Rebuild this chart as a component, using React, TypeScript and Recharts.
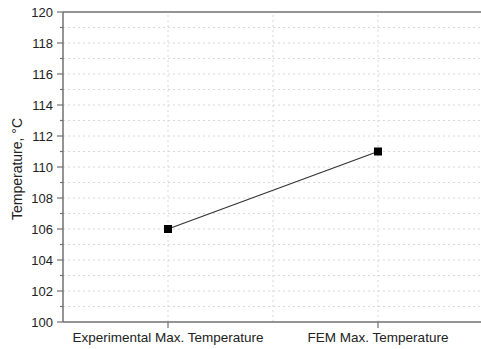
import React from 'react';
import { LineChart, Line, XAxis, YAxis, ReferenceLine } from 'recharts';

const categories = ['Experimental Max. Temperature', 'FEM Max. Temperature'];
const maxTemps = [106, 111];
const yTicks = [100, 101, 102, 103, 104, 105, 106, 107, 108, 109, 110, 111, 112, 113, 114, 115, 116, 117, 118, 119, 120];
const gridY = [101, 102, 103, 104, 105, 106, 107, 108, 109, 110, 111, 112, 113, 114, 115, 116, 117, 118, 119];
const gridX = [1, 1.5, 2];

const data = categories.map((name, i) => ({ pos: i + 1, name, temp: maxTemps[i] }));

const FONT = '"Liberation Sans", Arial, sans-serif';
const AXIS = '#707070';

const LeftTick = (props: any) => {
  const { x, y, payload } = props;
  const major = payload.value % 2 === 0;
  return (
    <g>
      <line x1={x - (major ? 6 : 3)} y1={y} x2={x} y2={y} stroke={AXIS} strokeWidth={1.2} />
      {major && (
        <text x={x - 10} y={y} dy={4.5} textAnchor="end" fontSize={13} fill="#222" fontFamily={FONT}>
          {payload.value}
        </text>
      )}
    </g>
  );
};

const RightTick = (props: any) => {
  const { x, y, payload } = props;
  const major = payload.value % 2 === 0;
  return <line x1={x} y1={y} x2={x - (major ? 6 : 3)} y2={y} stroke={AXIS} strokeWidth={1.2} />;
};

const BottomTick = (props: any) => {
  const { x, y, payload } = props;
  return (
    <g>
      <line x1={x} y1={y} x2={x} y2={y + 6} stroke={AXIS} strokeWidth={1.2} />
      <text x={x} y={y + 20} textAnchor="middle" fontSize={13.5} fill="#222" fontFamily={FONT}>
        {categories[payload.value - 1]}
      </text>
    </g>
  );
};

const SquareDot = (props: any) => {
  const { cx, cy } = props;
  return <rect x={cx - 4} y={cy - 4} width={8} height={8} fill="#000" />;
};

export default function App() {
  return (
    <div style={{ position: 'absolute', left: 0, top: 0, width: 481, height: 349, overflow: 'hidden', background: '#fff' }}>
      <LineChart width={490} height={349} data={data} margin={{ top: 12, right: 7, bottom: 0, left: 0 }}>
        {gridY.map((v) => (
          <ReferenceLine key={'gy' + v} yAxisId="left" y={v} stroke="#d8d8d8" strokeDasharray="2 3" />
        ))}
        {gridX.map((v) => (
          <ReferenceLine key={'gx' + v} yAxisId="left" x={v} stroke="#d8d8d8" strokeDasharray="2 3" />
        ))}
        <ReferenceLine yAxisId="left" y={120} stroke={AXIS} strokeWidth={1.5} />
        <ReferenceLine yAxisId="left" x={2.5} stroke={AXIS} strokeWidth={1.5} />
        <XAxis
          dataKey="pos"
          type="number"
          domain={[0.5, 2.5]}
          ticks={[1, 2]}
          height={27}
          tickSize={0}
          tickMargin={0}
          tick={<BottomTick />}
          stroke={AXIS}
          strokeWidth={1.5}
        />
        <YAxis
          yAxisId="left"
          domain={[100, 120]}
          ticks={yTicks}
          interval={0}
          width={63}
          tickSize={0}
          tickMargin={0}
          tick={<LeftTick />}
          stroke={AXIS}
          strokeWidth={1.5}
          label={{
            content: () => (
              <text x={22} y={169} transform="rotate(-90 22 169)" textAnchor="middle" fontSize={14} fill="#222" fontFamily={FONT}>
                Temperature, °C
              </text>
            ),
          }}
        />
        <YAxis
          yAxisId="right"
          orientation="right"
          domain={[100, 120]}
          ticks={yTicks}
          interval={0}
          width={0}
          tickSize={0}
          tickMargin={0}
          tick={<RightTick />}
          axisLine={false}
        />
        <Line
          yAxisId="left"
          dataKey="temp"
          stroke="#333"
          strokeWidth={1.2}
          dot={<SquareDot />}
          activeDot={false}
          isAnimationActive={false}
        />
      </LineChart>
    </div>
  );
}
